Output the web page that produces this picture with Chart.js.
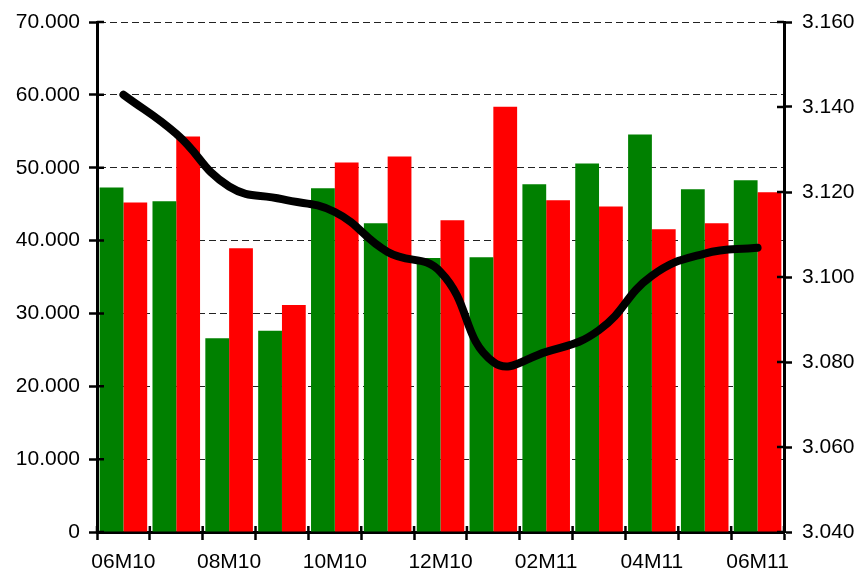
<!DOCTYPE html>
<html>
<head>
<meta charset="utf-8">
<script src="https://cdn.jsdelivr.net/npm/chart.js@4"></script>
<style>
  body { margin: 0; background: #fff; }
</style>
</head>
<body>
<canvas id="myChart" width="856" height="572"></canvas>
<script>
const labels = ['06M10', '07M10', '08M10', '09M10', '10M10', '11M10', '12M10',
    '01M11', '02M11', '03M11', '04M11', '05M11', '06M11'];

const greenValues = [47280, 45380, 26610, 27610, 47180, 42390, 37600,
    37700, 47730, 50580, 54570, 47030, 48280];

const redValues = [45240, 54270, 38940, 31160, 50730, 51530, 42790,
    58370, 45530, 44690, 41540, 42390, 46630];

const lineValues = [3.1429, 3.1337, 3.1213, 3.1183, 3.1153, 3.1059, 3.1012,
    3.0800, 3.0824, 3.0875, 3.1003, 3.1055, 3.1069];

const tickFont = { family: 'Liberation Sans, Arial, sans-serif', size: 21, lineHeight: 1.0 };

// tick marks in the original cross the axis line, chart.js only draws the outer half
const innerTicks = {
    id: 'innerTicks',
    afterDatasetsDraw(chart) {
        const ctx = chart.ctx;
        const area = chart.chartArea;
        const sx = chart.scales.x, sy = chart.scales.y, sy1 = chart.scales.y1;
        ctx.save();
        ctx.strokeStyle = '#000';
        ctx.lineWidth = 2.5;
        ctx.beginPath();
        sy.ticks.forEach(t => {
            const p = sy.getPixelForValue(t.value);
            ctx.moveTo(area.left, p);
            ctx.lineTo(area.left + 7, p);
        });
        sy1.ticks.forEach(t => {
            const p = sy1.getPixelForValue(t.value);
            ctx.moveTo(area.right - 7, p);
            ctx.lineTo(area.right, p);
        });
        const step = (sx.right - sx.left) / labels.length;
        for (let i = 0; i <= labels.length; i++) {
            const p = sx.left + i * step;
            ctx.moveTo(p, area.bottom - 6);
            ctx.lineTo(p, area.bottom);
        }
        ctx.stroke();
        ctx.restore();
    }
};

const data = {
    labels: labels,
    datasets: [{
        type: 'line',
        data: lineValues,
        yAxisID: 'y1',
        borderColor: '#000',
        borderWidth: 8,
        borderCapStyle: 'round',
        pointRadius: 0,
        tension: 0.45,
        order: 0
    }, {
        data: greenValues,
        backgroundColor: '#008000',
        categoryPercentage: 0.9,
        barPercentage: 1.0,
        order: 1
    }, {
        data: redValues,
        backgroundColor: '#ff0000',
        categoryPercentage: 0.9,
        barPercentage: 1.0,
        order: 1
    }]
};

// fixed axis sizes so the plot area lands where the original has it
const config = {
    type: 'bar',
    data: data,
    plugins: [innerTicks],
    options: {
        responsive: false,
        animation: false,
        layout: { padding: { top: 22, right: 0, left: 0, bottom: 0 } },
        plugins: { legend: { display: false }, tooltip: { enabled: false } },
        scales: {
            x: {
                afterFit: function(s) { s.height = 40; },
                grid: { offset: true, drawOnChartArea: false, tickLength: 8, tickWidth: 2.5, tickColor: '#000' },
                border: { color: '#000', width: 3 },
                ticks: {
                    color: '#000', font: tickFont, autoSkip: false, maxRotation: 0, padding: 12,
                    callback: function(v, i) { return i % 2 === 0 ? labels[i] : ''; }
                }
            },
            y: {
                position: 'left',
                min: 0, max: 70000,
                afterFit: function(s) { s.width = 97; },
                grid: { color: '#222', lineWidth: 1, tickLength: 8, tickWidth: 2.5, tickColor: '#000' },
                border: { color: '#000', width: 3, dash: [7, 4] },
                ticks: {
                    stepSize: 10000, color: '#000', font: tickFont, padding: 9,
                    callback: function(v) { return v === 0 ? '0' : (v / 1000).toFixed(3); }
                }
            },
            y1: {
                position: 'right',
                min: 3.04, max: 3.16,
                afterFit: function(s) { s.width = 72; },
                grid: { drawOnChartArea: false, tickLength: 8, tickWidth: 2.5, tickColor: '#000' },
                border: { color: '#000', width: 3 },
                ticks: {
                    stepSize: 0.02, color: '#000', font: tickFont, padding: 10,
                    callback: function(v) { return v.toFixed(3); }
                }
            }
        }
    }
};

const myChart = new Chart(document.getElementById('myChart'), config);
</script>
</body>
</html>
